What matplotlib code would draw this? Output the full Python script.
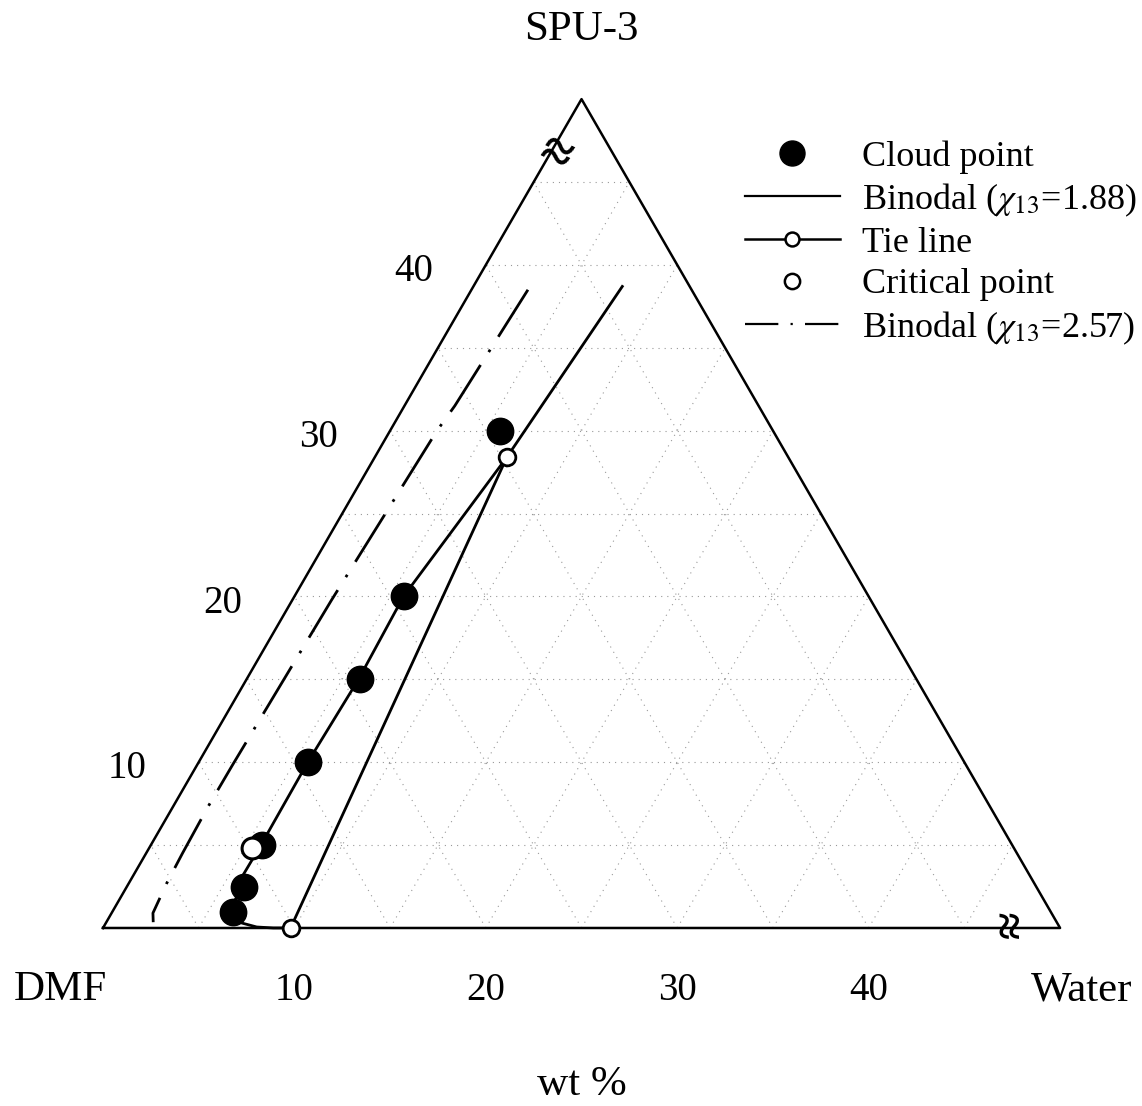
import numpy as np
import matplotlib.pyplot as plt
from matplotlib.lines import Line2D

plt.rcParams['font.family'] = ['Liberation Serif', 'DejaVu Serif']
plt.rcParams['mathtext.fontset'] = 'stix'

# compositions in wt% (water, SPU); DMF is the rest. only 0-50 % is shown
cloud_water = [5.75, 5.7, 5.95, 5.7, 5.8, 6.15, 6.3]
cloud_spu = [30.0, 20.0, 15.0, 10.0, 5.0, 2.45, 0.95]

crit_water = [5.4]
crit_spu = [4.8]

tie_water = [9.8, 6.9]
tie_spu = [0.0, 28.4]

bin188_water = [7.78, 6.9, 6.1, 5.7, 5.85, 5.7, 5.75, 5.72, 6.1, 6.05, 6.3, 7.1, 8.0, 8.9, 9.8]
bin188_spu = [38.7, 28.4, 22.8, 20.0, 15.0, 10.0, 5.0, 3.1, 2.4, 1.7, 0.9, 0.3, 0.06, 0.0, 0.0]

bin257_water = [2.95, 2.63, 2.45, 2.05, 1.85, 1.83, 1.9, 1.98, 2.16, 2.45]
bin257_spu = [38.5, 31.5, 30.0, 19.8, 9.8, 7.3, 4.5, 2.7, 0.9, 0.35]

ticks = [10, 20, 30, 40]
full = 50
grid_steps = [5, 10, 15, 20, 25, 30, 35, 40, 45]


def tern(w, s):
    w = np.asarray(w, dtype=float)
    s = np.asarray(s, dtype=float)
    return w + s / 2.0, s * np.sqrt(3) / 2.0


fig = plt.figure(figsize=(11.42, 11.06), dpi=100)
ax = fig.add_axes([0, 0, 1, 1])
ax.set_xlim(-5.38, 54.28)
ax.set_ylim(-9.30, 48.48)
ax.axis('off')

# dotted grid
gkw = dict(color='0.6', lw=0.8, dashes=(1, 4.5), zorder=1)
for k in grid_steps:
    ax.plot(*tern([0, full - k], [k, k]), **gkw)
    ax.plot(*tern([k, k], [0, full - k]), **gkw)
    ax.plot(*tern([k, 0], [0, k]), **gkw)

# triangle
ax.plot(*tern([0, full, 0, 0], [0, 0, full, 0]), color='k', lw=1.8, zorder=2)

# break marks
bx, by = tern(0, 47.2)
ax.text(bx, by, '≈', rotation=-25, fontsize=40, fontweight='bold',
        ha='center', va='center_baseline', zorder=3)
bx, by = tern(47.6, 0)
ax.text(bx, by, '≈', rotation=90, fontsize=36, fontweight='bold',
        ha='center', va='center_baseline', zorder=3)

# curves and points
ax.plot(*tern(bin257_water, bin257_spu), color='k', lw=2.0,
        dashes=(20, 5.5, 1, 5.5), zorder=3)
ax.plot(*tern(bin188_water, bin188_spu), color='k', lw=2.0, zorder=3)
ax.plot(*tern(tie_water, tie_spu), color='k', lw=2.0, marker='o', ms=12,
        mfc='w', mec='k', mew=2, zorder=4)
ax.plot(*tern(cloud_water, cloud_spu), ls='none', marker='o', ms=19,
        mfc='k', mec='k', zorder=5)
ax.plot(*tern(crit_water, crit_spu), ls='none', marker='o', ms=15,
        mfc='w', mec='k', mew=2.2, zorder=6)

# tick labels
fs = 28
for t in ticks:
    x, y = tern(t, 0)
    ax.text(x, y - 3.25, str(t), fontsize=fs, ha='center', va='center')
    x, y = tern(0, t)
    ax.text(x - 3.76, y - 0.35, str(t), fontsize=fs, ha='center', va='center')

fc = 31
x, y = tern(0, 0)
ax.text(x - 2.2, y - 3.25, 'DMF', fontsize=fc, ha='center', va='center')
x, y = tern(full, 0)
ax.text(x + 1.1, y - 3.25, 'Water', fontsize=fc, ha='center', va='center')
x, y = tern(0, full)
ax.text(x, 46.9, 'SPU-3', fontsize=fc, ha='center', va='center')
ax.text(x, -8.2, 'wt %', fontsize=fc, ha='center', va='center')

# legend
handles = [
    Line2D([], [], ls='none', marker='o', ms=18, mfc='k', mec='k'),
    Line2D([], [], color='k', lw=1.6),
    Line2D([], [], color='k', lw=1.8, marker='o', ms=10, mfc='w', mec='k', mew=1.8),
    Line2D([], [], ls='none', marker='o', ms=11, mfc='w', mec='k', mew=1.8),
    Line2D([], [], color='k', lw=1.6, dashes=(15, 5.5, 1, 5.5)),
]
labels = ['Cloud point', r'Binodal ($\chi_{13}$=1.88)', 'Tie line',
          'Critical point', r'Binodal ($\chi_{13}$=2.57)']
fig.legend(handles, labels, loc='upper left',
           bbox_to_anchor=(745 / 1142, 1 - 140 / 1106), frameon=False,
           fontsize=26, handlelength=2.63, handletextpad=0.6,
           labelspacing=0.22, borderpad=0, borderaxespad=0)

fig.savefig('out.png', dpi=100)
